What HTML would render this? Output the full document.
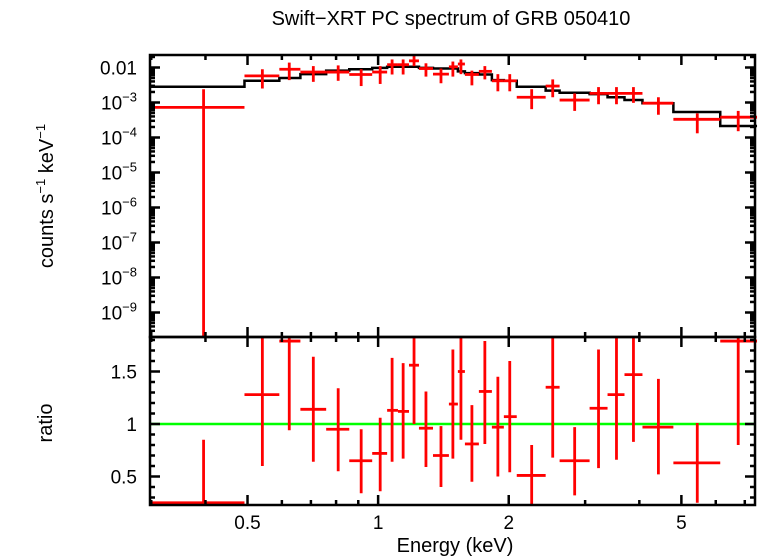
<!DOCTYPE html>
<html><head><meta charset="utf-8">
<style>
html,body{margin:0;padding:0;background:#fff;}
svg{display:block;font-family:"Liberation Sans",sans-serif;}
</style></head>
<body>
<svg id="chart" width="758" height="556" viewBox="0 0 758 556" xmlns="http://www.w3.org/2000/svg">
<text x="451" y="25" font-size="20" text-anchor="middle">Swift−XRT PC spectrum of GRB 050410</text>
<text transform="translate(53,196) rotate(-90)" font-size="20" text-anchor="middle">counts s<tspan font-size="13" dy="-8">−1</tspan><tspan dy="8"> keV</tspan><tspan font-size="13" dy="-8">−1</tspan></text>
<text transform="translate(52,423) rotate(-90)" font-size="20" text-anchor="middle">ratio</text>
<text x="455" y="552" font-size="20" text-anchor="middle">Energy (keV)</text>
<g id="g"></g>
</svg>
<script>
// bin edges (keV)
const binEdges=[0.299,0.492,0.592,0.662,0.759,0.858,0.969,1.049,1.111,1.178,1.242,1.338,1.456,1.527,1.585,1.707,1.829,1.949,2.087,2.433,2.620,3.072,3.379,3.697,4.067,4.792,6.145,7.47];
const binCenters=[0.396,0.541,0.624,0.709,0.809,0.914,1.011,1.077,1.142,1.210,1.289,1.396,1.487,1.552,1.645,1.762,1.888,2.011,2.259,2.526,2.838,3.221,3.543,3.877,4.426,5.44,6.76];
// log10 counts s^-1 keV^-1
const logRate=[-3.14,-2.24,-2.05,-2.13,-2.13,-2.2,-2.13,-1.92,-1.92,-1.81,-2.03,-2.19,-1.98,-1.90,-2.2,-2.11,-2.38,-2.38,-2.85,-2.53,-2.93,-2.74,-2.74,-2.74,-3.02,-3.48,-3.42];
const logRateHi=[-2.62,-2.05,-1.86,-1.96,-1.94,-2.05,-1.96,-1.77,-1.77,-1.65,-1.88,-2.03,-1.83,-1.77,-2.09,-1.96,-2.19,-2.19,-2.62,-2.34,-2.74,-2.56,-2.56,-2.56,-2.85,-3.31,-3.24];
const logRateLo=[-12,-2.6,-2.36,-2.41,-2.38,-2.53,-2.47,-2.2,-2.2,-1.96,-2.26,-2.45,-2.26,-2.19,-2.51,-2.34,-2.68,-2.68,-3.19,-2.85,-3.24,-3.05,-3.05,-3.01,-3.35,-3.88,-3.82];
const logModel=[-2.55,-2.38,-2.3,-2.19,-2.09,-2.05,-2.01,-1.98,-1.98,-1.98,-2.01,-2.03,-2.03,-2.11,-2.16,-2.2,-2.36,-2.38,-2.55,-2.66,-2.72,-2.76,-2.85,-2.93,-3.02,-3.27,-3.67];
const ratio=[0.25,1.28,1.79,1.14,0.95,0.65,0.72,1.13,1.12,1.56,0.96,0.70,1.19,1.50,0.81,1.31,0.97,1.07,0.51,1.35,0.65,1.15,1.28,1.47,0.97,0.63,1.79];
const ratioHi=[0.85,2.0,2.0,1.64,1.34,0.95,1.06,1.63,1.58,2.0,1.31,0.98,1.71,2.0,1.18,1.79,1.45,1.60,0.80,2.0,0.97,1.71,2.0,2.0,1.43,1.01,2.0];
const ratioLo=[0.0,0.60,0.94,0.64,0.55,0.34,0.36,0.64,0.67,1.0,0.59,0.40,0.67,0.85,0.45,0.81,0.50,0.54,0.22,0.68,0.32,0.58,0.66,0.83,0.52,0.25,0.80];
const topTickVals=[-2,-3,-4,-5,-6,-7,-8,-9];
const topTickLabels=["0.01","10","10","10","10","10","10","10"];
const topTickExp=["","−3","−4","−5","−6","−7","−8","−9"];
const ratioTicks=[0.5,1,1.5];
const xMajor=[0.5,1,2,5];
const xMinor=[0.3,0.4,0.6,0.7,0.8,0.9,3,4,6,7];

const L=150,R=755,T1=55,B1=337,B2=505;
const lx0=Math.log10(0.298),lx1=Math.log10(7.39);
const X=e=>L+(Math.log10(e)-lx0)/(lx1-lx0)*(R-L);
const Y1=lg=>Math.min(B1,Math.max(T1,67.5+(-2-lg)*35));
const Y2=r=>Math.min(B2,Math.max(B1,424-(r-1)*105));
const NS="http://www.w3.org/2000/svg";
const g=document.getElementById('g');
function mk(tag,attrs,parent){const e=document.createElementNS(NS,tag);for(const k in attrs)e.setAttribute(k,attrs[k]);(parent||g).appendChild(e);return e;}
function line(x1,y1,x2,y2,c,w,name,parent){const e=mk('line',{x1,y1,x2,y2,stroke:c,'stroke-width':w},parent);


return e;}

// model step line
let d='';
for(let i=0;i<logModel.length;i++){const y=Y1(logModel[i]);d+=(i?'L':'M')+X(binEdges[i])+' '+y+'L'+X(binEdges[i+1])+' '+y;}
const model=mk('path',{d,fill:'none',stroke:'#000','stroke-width':2.5});



// top data
for(let i=0;i<logRate.length;i++){
 const gg=mk('g',{});
 
 
 const yc=Y1(logRate[i]),xc=X(binCenters[i]);
 line(X(binEdges[i]),yc,X(binEdges[i+1]),yc,'#f00',2.8,'x-error-bar',gg);
 line(xc,Y1(logRateHi[i]),xc,Y1(logRateLo[i]),'#f00',2.8,'y-error-bar',gg);
}
// ratio line at 1
line(L,Y2(1),R,Y2(1),'#0f0',2.5,'unity-ratio-line');
for(let i=0;i<ratio.length;i++){
 const gg=mk('g',{});
 
 
 const yc=Y2(ratio[i]),xc=X(binCenters[i]);
 line(X(binEdges[i]),yc,X(binEdges[i+1]),yc,'#f00',2.8,'x-error-bar',gg);
 line(xc,Y2(ratioHi[i]),xc,Y2(ratioLo[i]),'#f00',2.8,'y-error-bar',gg);
}

// frames
for(const [t,b,n] of [[T1,B1,'spectrum-panel-frame'],[B1,B2,'ratio-panel-frame']]){
 const r=mk('rect',{x:L,y:t,width:R-L,height:b-t,fill:'none',stroke:'#000','stroke-width':2.5});
 
 
}
// x ticks
for(const [t,b] of [[T1,B1],[B1,B2]]){
 for(const v of xMajor){const x=X(v);line(x,t,x,t+10,'#000',2.5,'x-major-tick');line(x,b,x,b-10,'#000',2.5,'x-major-tick');}
 for(const v of xMinor){const x=X(v);line(x,t,x,t+5,'#000',2.5,'x-minor-tick');line(x,b,x,b-5,'#000',2.5,'x-minor-tick');}
}
for(const v of xMajor){const t=mk('text',{x:X(v),y:529,'font-size':19,'text-anchor':'middle'});t.textContent=String(v);

}
// top y ticks
for(let dec=-2;dec>=-10;dec--){
 for(let m=1;m<10;m++){
  const lg=dec+Math.log10(m);const y=67.5+(-2-lg)*35;if(y<T1+1||y>B1-1)continue;
  const len=m===1?10:5;
  line(L,y,L+len,y,'#000',2.5,'y-tick');line(R,y,R-len,y,'#000',2.5,'y-tick');
 }
}
topTickVals.forEach((v,i)=>{
 const y=Y1(v)+7;
 const t=mk('text',{x:137,y,'font-size':19,'text-anchor':'end'});
 
 
 if(topTickExp[i]){t.textContent=topTickLabels[i];
  const s=mk('tspan',{'font-size':13,dy:-8},t);s.textContent=topTickExp[i];t.setAttribute('text-anchor','start');t.setAttribute('x',101);}
 else t.textContent=topTickLabels[i];
});
// ratio ticks
for(let k=3;k<=18;k++){const r=k/10;const y=Y2(r);const len=(k%5===0)?10:5;
 line(L,y,L+len,y,'#000',2.5,'ratio-tick');line(R,y,R-len,y,'#000',2.5,'ratio-tick');}
for(const v of ratioTicks){const t=mk('text',{x:137,y:Y2(v)+7,'font-size':19,'text-anchor':'end'});t.textContent=String(v);

}
</script>
</body></html>
